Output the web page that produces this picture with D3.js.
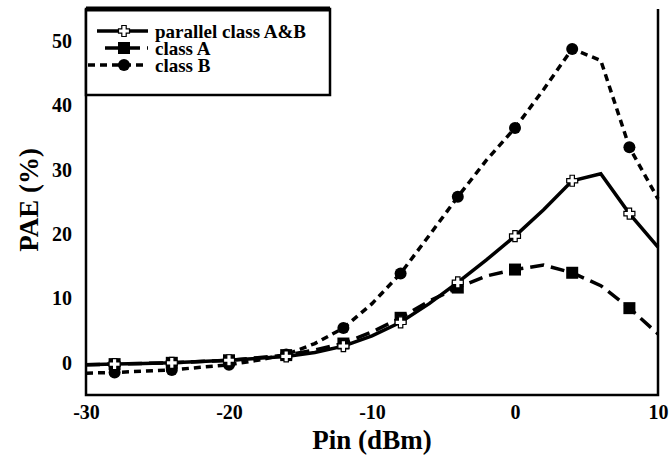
<!DOCTYPE html>
<html>
<head>
<meta charset="utf-8">
<script src="https://cdn.jsdelivr.net/npm/d3@7"></script>
<style>
  body { margin: 0; background: #fff; overflow: hidden; }
  svg { display: block; }
  svg text { font-family: "Liberation Serif", "Times New Roman", serif; font-weight: bold; fill: #000; }
</style>
</head>
<body>
<div id="chart"></div>
<script>
// data
let pin = [-30, -28, -26, -24, -22, -20, -18, -16, -14, -12, -10, -8, -6, -4, -2, 0, 2, 4, 6, 8, 10]
let paeParallel = [-0.3, -0.2, -0.1, 0, 0.2, 0.4, 0.7, 1.0, 1.6, 2.6, 4.2, 6.3, 9.2, 12.5, 16.0, 19.7, 23.8, 28.3, 29.4, 23.2, 18.0]
let paeClassA = [-0.3, -0.2, -0.1, 0, 0.2, 0.4, 0.8, 1.2, 2.0, 3.0, 4.8, 7.0, 9.6, 11.7, 13.5, 14.5, 15.2, 14.0, 12.0, 8.5, 4.5]
let paeClassB = [-1.6, -1.5, -1.3, -1.1, -0.7, -0.3, 0.4, 1.3, 3.0, 5.4, 9.2, 13.9, 19.8, 25.8, 31.5, 36.5, 42.5, 48.8, 47.0, 33.5, 25.5]
let markerPin = [-28, -24, -20, -16, -12, -8, -4, 0, 4, 8]
let xTicks = [-30, -20, -10, 0, 10]
let yTicks = [0, 10, 20, 30, 40, 50]
let seriesNames = ["parallel class A&B", "class A", "class B"]

let width = 669, height = 461
let mLeft = 86, mRight = 658, mTop = 9, mBottom = 395

let svg = d3.select('#chart')
    .append('svg')
    .attr('width', width)
    .attr('height', height)

let x = d3.scaleLinear().domain([-30, 10]).range([mLeft, mRight])
let y = d3.scaleLinear().domain([-5, 55]).range([mBottom, mTop])

// frame: left, bottom, right (no top line)
svg.append("path")
    .attr("d", `M${mLeft},${mTop}V${mBottom}H${mRight}V${mTop}`)
    .attr("fill", "none")
    .attr("stroke", "black")
    .attr("stroke-width", 2.5)

// tick labels only, plain hyphen for negatives
svg.append("g")
    .attr("transform", `translate(0,${mBottom})`)
    .call(d3.axisBottom(x).tickValues(xTicks).tickSize(0).tickPadding(10)
        .tickFormat(function (d) { return String(d); }))
    .call(g => g.select(".domain").remove())
    .selectAll("text")
    .style("font-size", "20px")
    .attr("dy", "0.71em")

svg.append("g")
    .attr("transform", `translate(${mLeft},0)`)
    .call(d3.axisLeft(y).tickValues(yTicks).tickSize(0).tickPadding(14)
        .tickFormat(function (d) { return String(d); }))
    .call(g => g.select(".domain").remove())
    .selectAll("text")
    .style("font-size", "20px")

svg.append("text")
    .attr("x", (mLeft + mRight) / 2)
    .attr("y", 440)
    .attr("dy", "0.35em")
    .attr("text-anchor", "middle")
    .style("font-size", "27px")
    .text("Pin (dBm)")

svg.append("text")
    .attr("transform", "translate(29,200) rotate(-90)")
    .attr("text-anchor", "middle")
    .attr("dy", "0.35em")
    .style("font-size", "27px")
    .text("PAE (%)")

let line = d3.line()
    .x(function (d) { return x(d[0]); })
    .y(function (d) { return y(d[1]); })

let series = [
    { name: seriesNames[0], values: paeParallel, dash: null, marker: "cross" },
    { name: seriesNames[1], values: paeClassA, dash: "14,7", marker: "square" },
    { name: seriesNames[2], values: paeClassB, dash: "7,5", marker: "circle" }
]

function drawMarker(g, kind, cx, cy) {
    if (kind === "circle") {
        g.append("circle").attr("cx", cx).attr("cy", cy).attr("r", 6).attr("fill", "black")
    } else if (kind === "square") {
        g.append("rect").attr("x", cx - 6).attr("y", cy - 6).attr("width", 12).attr("height", 12).attr("fill", "black")
    } else {
        let a = 2.2, b = 5.5
        g.append("path")
            .attr("d", `M${cx - a},${cy - b}H${cx + a}V${cy - a}H${cx + b}V${cy + a}H${cx + a}V${cy + b}H${cx - a}V${cy + a}H${cx - b}V${cy - a}H${cx - a}Z`)
            .attr("fill", "white")
            .attr("stroke", "black")
            .attr("stroke-width", 1.2)
    }
}

let plot = svg.append("g")

// class B first, then A, then parallel on top
series.slice().reverse().forEach(function (s) {
    let pts = pin.map(function (p, i) { return [p, s.values[i]]; })
    plot.append("path")
        .attr("d", line(pts))
        .attr("fill", "none")
        .attr("stroke", "black")
        .attr("stroke-width", 3.5)
        .attr("stroke-dasharray", s.dash)
    markerPin.forEach(function (p) {
        let i = pin.indexOf(p)
        drawMarker(plot, s.marker, x(p), y(s.values[i]))
    })
})

// legend
let legend = svg.append("g")
legend.append("rect")
    .attr("x", mLeft)
    .attr("y", mTop)
    .attr("width", 244)
    .attr("height", 86)
    .attr("fill", "white")
    .attr("stroke", "black")
    .attr("stroke-width", 2.5)
legend.append("line")
    .attr("x1", mLeft).attr("x2", mLeft + 244)
    .attr("y1", mTop).attr("y2", mTop)
    .attr("stroke", "black").attr("stroke-width", 5)

let rowY = [31, 48, 65]
let lineStart = [97, 105, 88]
series.forEach(function (s, i) {
    legend.append("line")
        .attr("x1", lineStart[i]).attr("x2", 148)
        .attr("y1", rowY[i]).attr("y2", rowY[i])
        .attr("stroke", "black")
        .attr("stroke-width", 3.5)
        .attr("stroke-dasharray", s.dash)
    drawMarker(legend, s.marker, 124, rowY[i])
    legend.append("text")
        .attr("x", 155)
        .attr("y", rowY[i])
        .attr("dy", "0.35em")
        .style("font-size", "19px")
        .text(s.name)
})
</script>
</body>
</html>
